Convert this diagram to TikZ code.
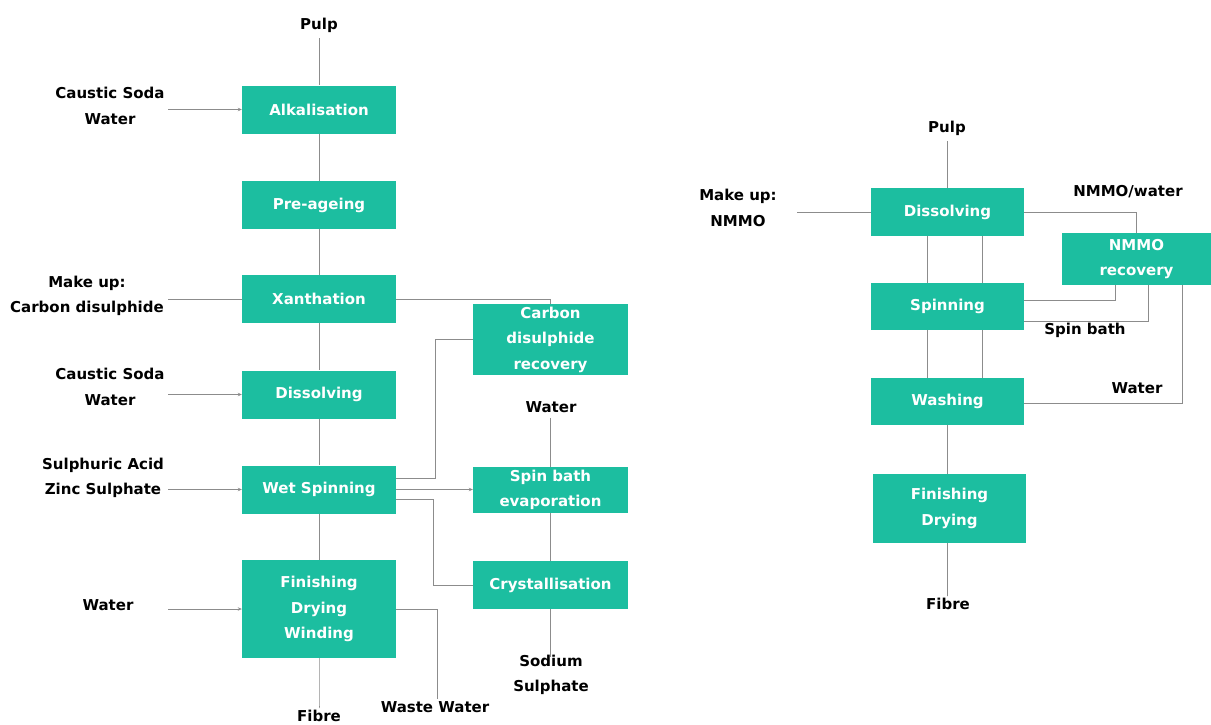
\documentclass[tikz,border=0pt]{standalone}
\usepackage{fontspec}
\setmainfont{DejaVu Sans}
\usetikzlibrary{arrows.meta}
\definecolor{teal1}{RGB}{28,190,160}
\definecolor{linegray}{RGB}{140,140,140}
\begin{document}
\begin{tikzpicture}[x=1pt,y=-1pt,
  font=\bfseries\fontsize{15}{25.5}\selectfont,
  box/.style={fill=teal1,text=white,minimum width=154pt,minimum height=48pt,align=center,inner sep=0pt},
  lbl/.style={text=black,align=center,inner sep=2pt},
  conn/.style={draw=linegray,line width=1pt},
  arr/.style={conn,-{Stealth[length=4pt,width=3.5pt]}}]
\useasboundingbox (0,0) rectangle (1211,724);
% ---------- left diagram ----------
\node[box] (alk) at (319,109.5) {Alkalisation};
\node[box] (pre) at (319,205) {Pre-ageing};
\node[box] (xan) at (319,299) {Xanthation};
\node[box] (dis) at (319,394.5) {Dissolving};
\node[box] (wet) at (319,489.5) {Wet Spinning};
\node[box,minimum height=98pt] (fin) at (319,609) {Finishing\\Drying\\Winding};
\node[box,minimum width=155pt,minimum height=71pt] (cdr) at (550.5,339.5) {Carbon\\disulphide\\recovery};
\node[box,minimum width=155pt,minimum height=46pt] (sbe) at (550.5,490) {Spin bath\\evaporation};
\node[box,minimum width=155pt] (cry) at (550.5,585) {Crystallisation};

\node[lbl] (pulpL) at (319,25) {Pulp};
\node[lbl] (cs1) at (110,106) {Caustic Soda\\Water};
\node[lbl] (mu1) at (87,296) {Make up:\\Carbon disulphide};
\node[lbl] (cs2) at (110,387) {Caustic Soda\\Water};
\node[lbl] (sa) at (103,478) {Sulphuric Acid\\Zinc Sulphate};
\node[lbl] (w1) at (108,605) {Water};
\node[lbl] (fibL) at (319,716) {Fibre};
\node[lbl] (ww) at (435,707) {Waste Water};
\node[lbl] (w2) at (551,407) {Water};
\node[lbl] (ss) at (551,675) {Sodium\\Sulphate};

\draw[conn] (alk.north |- pulpL.south) ++(0,4) -- (alk.north);
\draw[arr] (168,0 |- alk.west) -- (alk.west);
\draw[conn] (alk) -- (pre);
\draw[conn] (pre) -- (xan);
\draw[conn] (xan) -- (dis);
\draw[conn] (dis) -- (wet);
\draw[conn] (wet) -- (fin);
\draw[conn] (168,0 |- xan.west) -- (xan.west);
\draw[arr] (168,0 |- dis.west) -- (dis.west);
\draw[arr] (168,0 |- wet.west) -- (wet.west);
\draw[arr] (168,0 |- fin.west) -- (fin.west);
\draw[conn] (fin.south) -- (fin.south |- fibL.north) -- ++(0,-2);
\draw[conn] (xan.east) -| (cdr.north);
\draw[conn] ([yshift=11.5pt]wet.east) -- (435,478) |- (cdr.west);
\draw[arr] (wet.east) -- (wet.east -| sbe.west);
\draw[conn] ([yshift=-10pt]wet.east) -- (433,499.5) |- (cry.west);
\draw[conn] (sbe.north |- w2.south) ++(0,3) -- (sbe.north);
\draw[conn] (sbe.south) -- (cry.north);
\draw[conn] (cry.south) -- (cry.south |- ss.north) -- ++(0,4);
\draw[conn] (fin.east) -| ([xshift=2pt]ww.north);

% ---------- right diagram ----------
\node[box,minimum width=153pt] (rdis) at (947.5,212) {Dissolving};
\node[box,minimum width=153pt,minimum height=47pt] (rspin) at (947.5,306.5) {Spinning};
\node[box,minimum width=153pt,minimum height=47pt] (rwash) at (947.5,401.5) {Washing};
\node[box,minimum width=153pt,minimum height=69pt] (rfin) at (949.5,508.5) {Finishing\\Drying};
\node[box,minimum width=149pt,minimum height=52pt] (nmmo) at (1136.5,259) {NMMO\\recovery};

\node[lbl] (pulpR) at (947,128) {Pulp};
\node[lbl] (mu2) at (738,208) {Make up:\\NMMO};
\node[lbl] (nw) at (1128,192) {NMMO/water};
\node[lbl] (sb) at (1085,330) {Spin bath};
\node[lbl] (w3) at (1137,388) {Water};
\node[lbl] (fibR) at (948,604) {Fibre};

\draw[conn] (rdis.north |- pulpR.south) ++(0,4) -- (rdis.north);
\draw[conn] (797,0 |- rdis.west) -- (rdis.west);
\draw[conn] (rdis.east) -| (nmmo.north);
\draw[conn] ([xshift=-20.5pt]rdis.south) -- ([xshift=-20.5pt]rspin.north);
\draw[conn] ([xshift=34.5pt]rdis.south) -- ([xshift=34.5pt]rspin.north);
\draw[conn] ([xshift=-20.5pt]rspin.south) -- ([xshift=-20.5pt]rwash.north);
\draw[conn] ([xshift=34.5pt]rspin.south) -- ([xshift=34.5pt]rwash.north);
\draw[conn] ([yshift=6.5pt]rspin.east) -| ([xshift=-21.5pt]nmmo.south);
\draw[conn] ([yshift=-14.5pt]rspin.east) -| ([xshift=11.5pt]nmmo.south);
\draw[conn] ([yshift=-1.5pt]rwash.east) -| ([xshift=45.5pt]nmmo.south);
\draw[conn] (rwash.south) -- (rwash.south |- rfin.north);
\draw[conn] (rfin.south -| rwash.south) -- (rwash.south |- fibR.north) -- ++(0,-2);
\end{tikzpicture}
\end{document}
